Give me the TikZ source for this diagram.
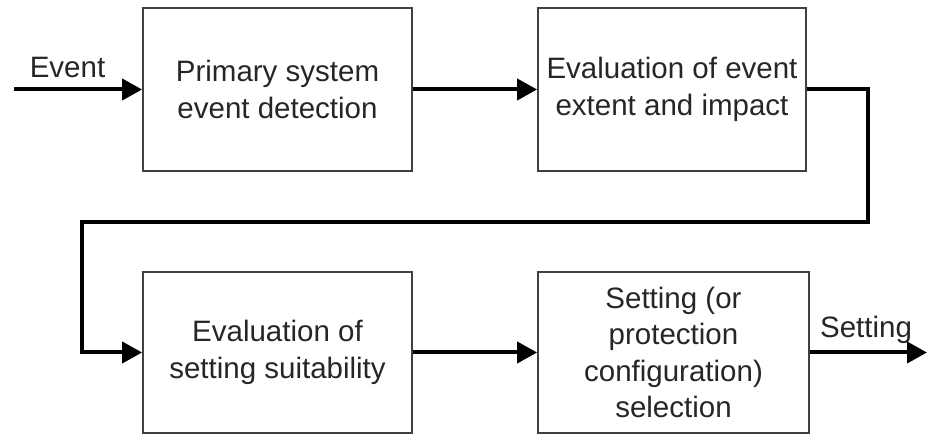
\documentclass[tikz,border=0pt]{standalone}
\usepackage{fontspec}
\setmainfont{Liberation Sans}
\usetikzlibrary{arrows.meta}

\begin{document}
\begin{tikzpicture}[x=1pt,y=1pt,
  block/.style={draw=black!75, line width=1.8pt, rectangle, align=center, text=black!85,
    font=\fontsize{29.5}{36.5}\selectfont, inner sep=0pt},
  flow/.style={line width=4pt, -{Triangle[length=20pt,width=21pt]}},
  lbl/.style={anchor=base, text=black!85, font=\fontsize{29.5}{36.5}\selectfont}]
\useasboundingbox (0,0) rectangle (927,434);
\node[block, minimum width=269pt, minimum height=163pt] (detect) at (277.5,344.5){Primary system\\event detection};
\node[block, minimum width=268pt, minimum height=163pt] (impact) at (672,344.5){Evaluation of event\\extent and impact};
\node[block, minimum width=269pt, minimum height=161pt] (suit) at (277.5,81.5){Evaluation of\\setting suitability};
\node[block, minimum width=271pt, minimum height=161pt] (select) at (673.5,81.5){Setting (or\\protection\\configuration)\\selection};
\coordinate (in) at (14,344.5);
\coordinate (out) at (927,81.5);
\coordinate (c1) at (868,212);
\coordinate (c2) at (82,212);
\node[lbl] (event) at (67.5,356){Event};
\node[lbl] (setting) at (866,96){Setting};
\draw[flow] (in) -- (detect);
\draw[flow] (detect) -- (impact);
\draw[flow] (impact.east) -| (c1) -- (c2) |- (suit.west);
\draw[flow] (suit) -- (select);
\draw[flow] (select) -- (out);
\end{tikzpicture}
\end{document}
